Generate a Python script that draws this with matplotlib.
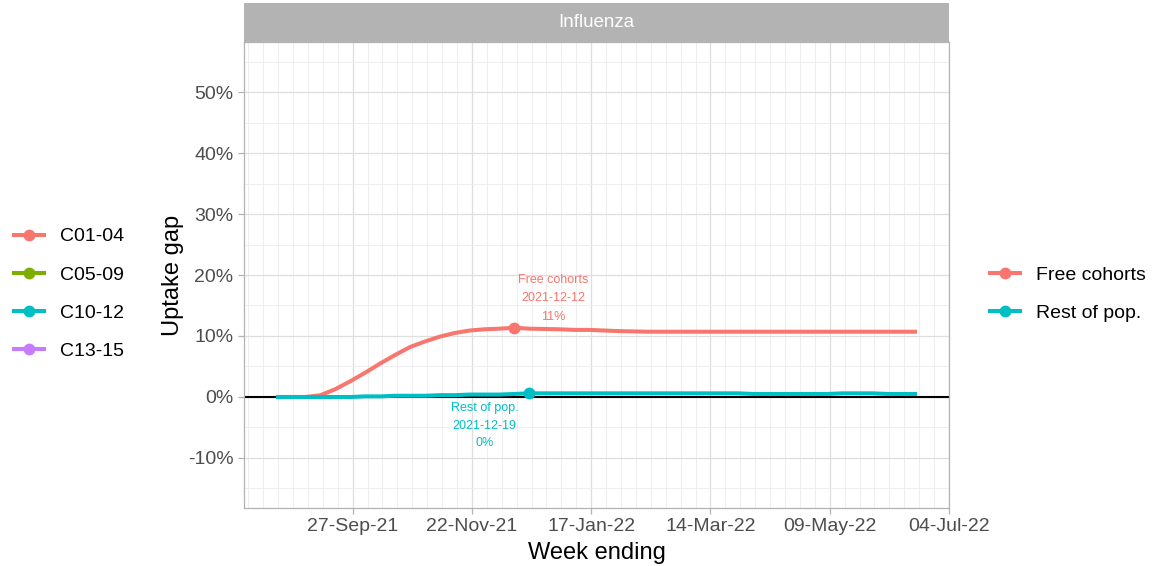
import matplotlib
matplotlib.use("Agg")
import matplotlib.pyplot as plt
import matplotlib.dates as mdates
from matplotlib.lines import Line2D
from matplotlib.ticker import FuncFormatter, MultipleLocator
import numpy as np
import pandas as pd

plt.rcParams['font.family'] = ['Liberation Sans', 'DejaVu Sans']

# ---------------- data ----------------
weeks = pd.date_range("2021-08-22", "2022-06-19", freq="7D")

free_cohorts = [0.000, 0.000, 0.000, 0.003, 0.013, 0.026, 0.040, 0.055, 0.069, 0.082,
                0.091, 0.099, 0.105, 0.109, 0.111, 0.112, 0.1135, 0.112, 0.1115, 0.111,
                0.110, 0.110, 0.109, 0.108, 0.1075, 0.107, 0.107, 0.107, 0.107, 0.107,
                0.107, 0.107, 0.107, 0.107, 0.107, 0.107, 0.107, 0.107, 0.107, 0.107,
                0.107, 0.107, 0.107, 0.107]
rest_of_pop = [0.000, 0.000, 0.000, 0.000, 0.000, 0.000, 0.001, 0.001, 0.002, 0.002,
               0.002, 0.003, 0.003, 0.004, 0.004, 0.004, 0.005, 0.006, 0.006, 0.006,
               0.006, 0.006, 0.006, 0.006, 0.006, 0.006, 0.006, 0.006, 0.006, 0.006,
               0.006, 0.006, 0.005, 0.005, 0.005, 0.005, 0.005, 0.005, 0.006, 0.006,
               0.006, 0.005, 0.005, 0.005]

series_names = ["Free cohorts", "Rest of pop."]
series_colors = ["#F8766D", "#00BFC4"]
peak_dates = ["2021-12-12", "2021-12-19"]
peak_labels = ["11%", "0%"]

cohort_names = ["C01-04", "C05-09", "C10-12", "C13-15"]
cohort_colors = ["#F8766D", "#7CAE00", "#00BFC4", "#C77CFF"]

panel_title = "Influenza"
x_label = "Week ending"
y_label = "Uptake gap"

# ---------------- figure ----------------
fig = plt.figure(figsize=(11.6, 5.66), dpi=100)
ax = fig.add_axes([244/1160, 1-508/566, (949-244)/1160, (508-42)/566])

grid_col = "#DEDEDE"
ax.set_facecolor("white")
for s in ax.spines.values():
    s.set_color("#B3B3B3")
    s.set_linewidth(0.9)

ax.set_ylim(-0.182, 0.582)
ax.set_xlim(pd.Timestamp("2021-08-07"), pd.Timestamp("2022-07-04"))

ax.yaxis.set_major_locator(MultipleLocator(0.1))
ax.yaxis.set_minor_locator(MultipleLocator(0.05))
ax.yaxis.set_major_formatter(FuncFormatter(lambda v, p: f"{v*100:.0f}%"))

major_dates = pd.date_range("2021-09-27", "2022-07-04", freq="56D")
minor_dates = pd.date_range("2021-08-09", "2022-07-04", freq="7D")
ax.set_xticks(mdates.date2num(major_dates))
ax.set_xticks(mdates.date2num(minor_dates), minor=True)
ax.xaxis.set_major_formatter(mdates.DateFormatter("%d-%b-%y"))

ax.grid(True, which="major", color=grid_col, linewidth=0.9)
ax.grid(True, which="minor", color="#EBEBEB", linewidth=0.6)
ax.set_axisbelow(True)

ax.tick_params(axis="both", which="major", labelsize=14, labelcolor="#4D4D4D",
               color="#B3B3B3", length=4, width=0.9)
ax.tick_params(axis="both", which="minor", length=0)

ax.set_xlabel(x_label, fontsize=17, color="black", labelpad=5)
ax.set_ylabel(y_label, fontsize=17, color="black", labelpad=3)

ax.axhline(0, color="black", linewidth=1.5, zorder=2)

series_vals = [free_cohorts, rest_of_pop]
for name, vals, col, pdt, plab in zip(series_names, series_vals, series_colors,
                                       peak_dates, peak_labels):
    ax.plot(weeks, vals, color=col, linewidth=2.9, solid_capstyle="butt", zorder=3)
    pdt_ts = pd.Timestamp(pdt)
    idx = list(weeks).index(pdt_ts)
    ax.plot([pdt_ts], [vals[idx]], "o", color=col, markersize=7.5, zorder=4)

# annotations
ax.annotate(f"{series_names[0]}\n{peak_dates[0]}\n{peak_labels[0]}",
            xy=(pd.Timestamp(peak_dates[0]), free_cohorts[16]),
            xytext=(39, 5), textcoords="offset pixels",
            ha="center", va="bottom", fontsize=9, color=series_colors[0],
            linespacing=1.7)
ax.annotate(f"{series_names[1]}\n{peak_dates[1]}\n{peak_labels[1]}",
            xy=(pd.Timestamp(peak_dates[1]), rest_of_pop[17]),
            xytext=(-45, -9), textcoords="offset pixels",
            ha="center", va="top", fontsize=9, color=series_colors[1],
            linespacing=1.6)

# strip
strip = fig.add_axes([244/1160, 1-42/566, (949-244)/1160, (42-3)/566])
strip.set_facecolor("#B3B3B3")
strip.set_xticks([]); strip.set_yticks([])
for s in strip.spines.values():
    s.set_visible(False)
strip.text(0.5, 0.5, panel_title, ha="center", va="center", color="white",
           fontsize=13.5, transform=strip.transAxes)

# legends
def handles(cols):
    return [Line2D([0], [0], color=c, linewidth=2.9, marker="o", markersize=7.5)
            for c in cols]

leg_kw = dict(loc="center left", frameon=False, fontsize=14,
              handlelength=1.55, handletextpad=0.82, labelspacing=1.06,
              borderaxespad=0, borderpad=0)
fig.legend(handles(cohort_colors), cohort_names,
           bbox_to_anchor=(14/1160, 1-294/566), **leg_kw)
fig.legend(handles(series_colors), series_names,
           bbox_to_anchor=(990/1160, 1-294/566), **leg_kw)

fig.savefig("out.png", dpi=100, facecolor="white")
